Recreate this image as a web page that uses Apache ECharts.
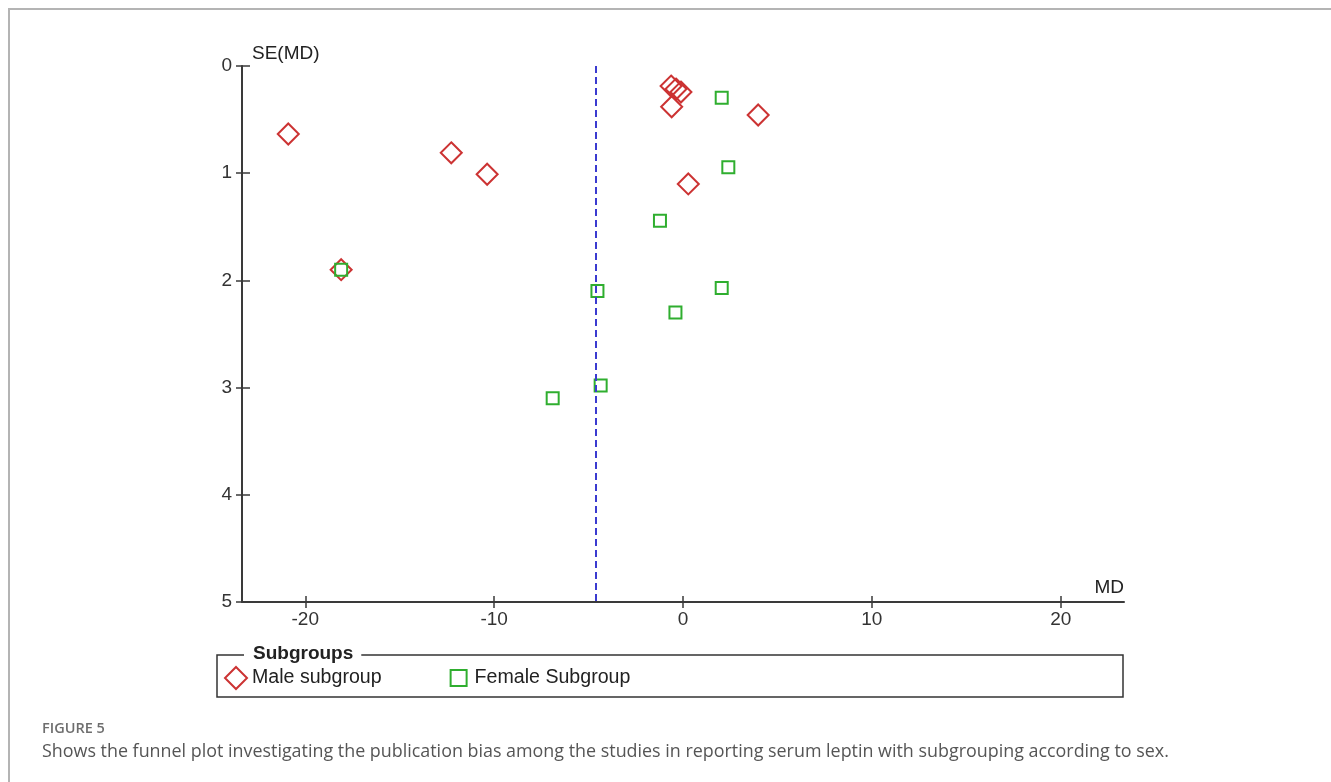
<!DOCTYPE html>
<html>
<head>
<meta charset="utf-8">
<title>Funnel plot – serum leptin by sex</title>
<script src="https://cdn.jsdelivr.net/npm/echarts@6/dist/echarts.min.js"></script>
<style>
  html, body { margin: 0; padding: 0; background: #fff; }
  #chart { width: 1331px; height: 782px; }
</style>
</head>
<body>
<div id="chart"></div>
<script>
// Mean difference (MD) and its standard error for each study, split by sex.
const maleMD = [-20.9, -12.27, -10.37, -18.1, -0.63, -0.37, -0.11, -0.6, 3.98, 0.28];
const maleSE = [0.634, 0.81, 1.01, 1.90, 0.187, 0.215, 0.243, 0.38, 0.457, 1.10];

const femaleMD = [2.05, 2.4, -1.22, -18.1, -4.53, 2.05, -0.4, -4.36, -6.9];
const femaleSE = [0.296, 0.945, 1.443, 1.90, 2.10, 2.07, 2.30, 2.98, 3.10];

// Pooled estimate drawn as the vertical reference line.
const pooledMD = -4.6;

const xTicks = [-20, -10, 0, 10, 20];
const seMin = 0, seMax = 5, seStep = 1;

const seriesNames = ['Male subgroup', 'Female Subgroup'];
const legendTitle = 'Subgroups';
const captionLabel = 'FIGURE 5';
const captionText = 'Shows the funnel plot investigating the publication bias among the studies in reporting serum leptin with subgrouping according to sex.';

const RED = '#cc3333';
const GREEN = '#2fae2f';
const AXIS = '#3a3a3a';
const FONT = '"Liberation Sans", Arial, sans-serif';
const CAPTION_FONT = '"Open Sans", Lato, sans-serif';

const pairs = (xs, ys) => xs.map((x, i) => [x, ys[i]]);

const chart = echarts.init(document.getElementById('chart'), null, { renderer: 'canvas' });

const baseX = {
  type: 'value', min: -23.35, max: 23.35, position: 'bottom',
  splitLine: { show: false }
};
const baseY = {
  type: 'value', min: seMin, max: seMax, interval: seStep, inverse: true, position: 'left',
  splitLine: { show: false }
};

chart.setOption({
  animation: false,
  backgroundColor: '#fff',
  grid: { left: 242, right: 207, top: 66, bottom: 180, containLabel: false, outerBoundsMode: 'none' },
  xAxis: [
    Object.assign({}, baseX, {
      name: 'MD', nameLocation: 'end', nameGap: 0,
      nameTextStyle: { fontFamily: FONT, fontSize: 19, color: '#222', align: 'right', verticalAlign: 'bottom', padding: [0, 0, 5, 0] },
      axisLine: { show: true, onZero: false, lineStyle: { color: AXIS, width: 2 } },
      axisTick: { show: true, inside: false, length: 6, lineStyle: { color: AXIS, width: 1.5 }, customValues: xTicks },
      axisLabel: { show: true, margin: 8, fontFamily: FONT, fontSize: 19, color: '#333', customValues: xTicks }
    }),
    Object.assign({}, baseX, {
      axisLine: { show: false, onZero: false },
      axisTick: { show: true, inside: true, length: 6, lineStyle: { color: AXIS, width: 1.5 }, customValues: xTicks },
      axisLabel: { show: false }
    })
  ],
  yAxis: [
    Object.assign({}, baseY, {
      name: 'SE(MD)', nameLocation: 'start', nameGap: 3,
      nameTextStyle: { fontFamily: FONT, fontSize: 19, color: '#222', align: 'left', verticalAlign: 'bottom', padding: [0, 0, 0, 10] },
      axisLine: { show: true, onZero: false, lineStyle: { color: AXIS, width: 2 } },
      axisTick: { show: true, inside: false, length: 6, lineStyle: { color: AXIS, width: 1.5 } },
      axisLabel: { show: true, margin: 10, fontFamily: FONT, fontSize: 19, color: '#333' }
    }),
    Object.assign({}, baseY, {
      axisLine: { show: false, onZero: false },
      axisTick: { show: true, inside: true, length: 8, lineStyle: { color: AXIS, width: 1.5 } },
      axisLabel: { show: false }
    })
  ],
  legend: {
    left: 224, top: 666, orient: 'horizontal', padding: 0,
    itemWidth: 22, itemHeight: 22, itemGap: 65,
    textStyle: { fontFamily: FONT, fontSize: 19.6, color: '#222' },
    data: [
      { name: seriesNames[0], icon: 'diamond' },
      { name: seriesNames[1], icon: 'path://M0,0M22,22M3,3H19V19H3Z' }
    ],
    selectedMode: false
  },
  series: [
    {
      name: seriesNames[0], type: 'scatter', symbol: 'diamond', symbolSize: 21,
      data: pairs(maleMD, maleSE),
      itemStyle: { color: 'rgba(255,255,255,0)', borderColor: RED, borderWidth: 2, opacity: 1 },
      markLine: {
        silent: true, symbol: 'none', label: { show: false },
        lineStyle: { color: '#3b3bd0', width: 2, type: [7, 4] },
        data: [{ xAxis: pooledMD }]
      },
      z: 3
    },
    {
      name: seriesNames[1], type: 'scatter', symbol: 'rect', symbolSize: 12,
      data: pairs(femaleMD, femaleSE),
      itemStyle: { color: 'rgba(255,255,255,0)', borderColor: GREEN, borderWidth: 2, opacity: 1 },
      z: 4
    }
  ],
  graphic: [
    // page frame
    { type: 'rect', shape: { x: 9, y: 9, width: 1400, height: 900 }, style: { fill: 'none', stroke: '#b4b4b4', lineWidth: 2 }, silent: true, z: 0 },
    // legend box
    { type: 'rect', shape: { x: 217, y: 655, width: 906, height: 42 }, style: { fill: 'none', stroke: '#333', lineWidth: 1.5 }, silent: true, z: 1 },
    { type: 'text', x: 244, y: 654, style: { text: legendTitle, fontFamily: FONT, fontSize: 19, fontWeight: 'bold', fill: '#222', backgroundColor: '#fff', padding: [1, 8, 1, 9], verticalAlign: 'middle', align: 'left' }, silent: true, z: 2 },
    // caption
    { type: 'text', x: 42, y: 729, style: { text: captionLabel, fontFamily: CAPTION_FONT, fontSize: 14.5, fontWeight: 600, fill: '#6e6e6e', verticalAlign: 'middle' }, silent: true },
    { type: 'text', x: 42, y: 752, style: { text: captionText, fontFamily: CAPTION_FONT, fontSize: 17.9, fill: '#555', verticalAlign: 'middle' }, silent: true }
  ]
});
</script>
</body>
</html>
